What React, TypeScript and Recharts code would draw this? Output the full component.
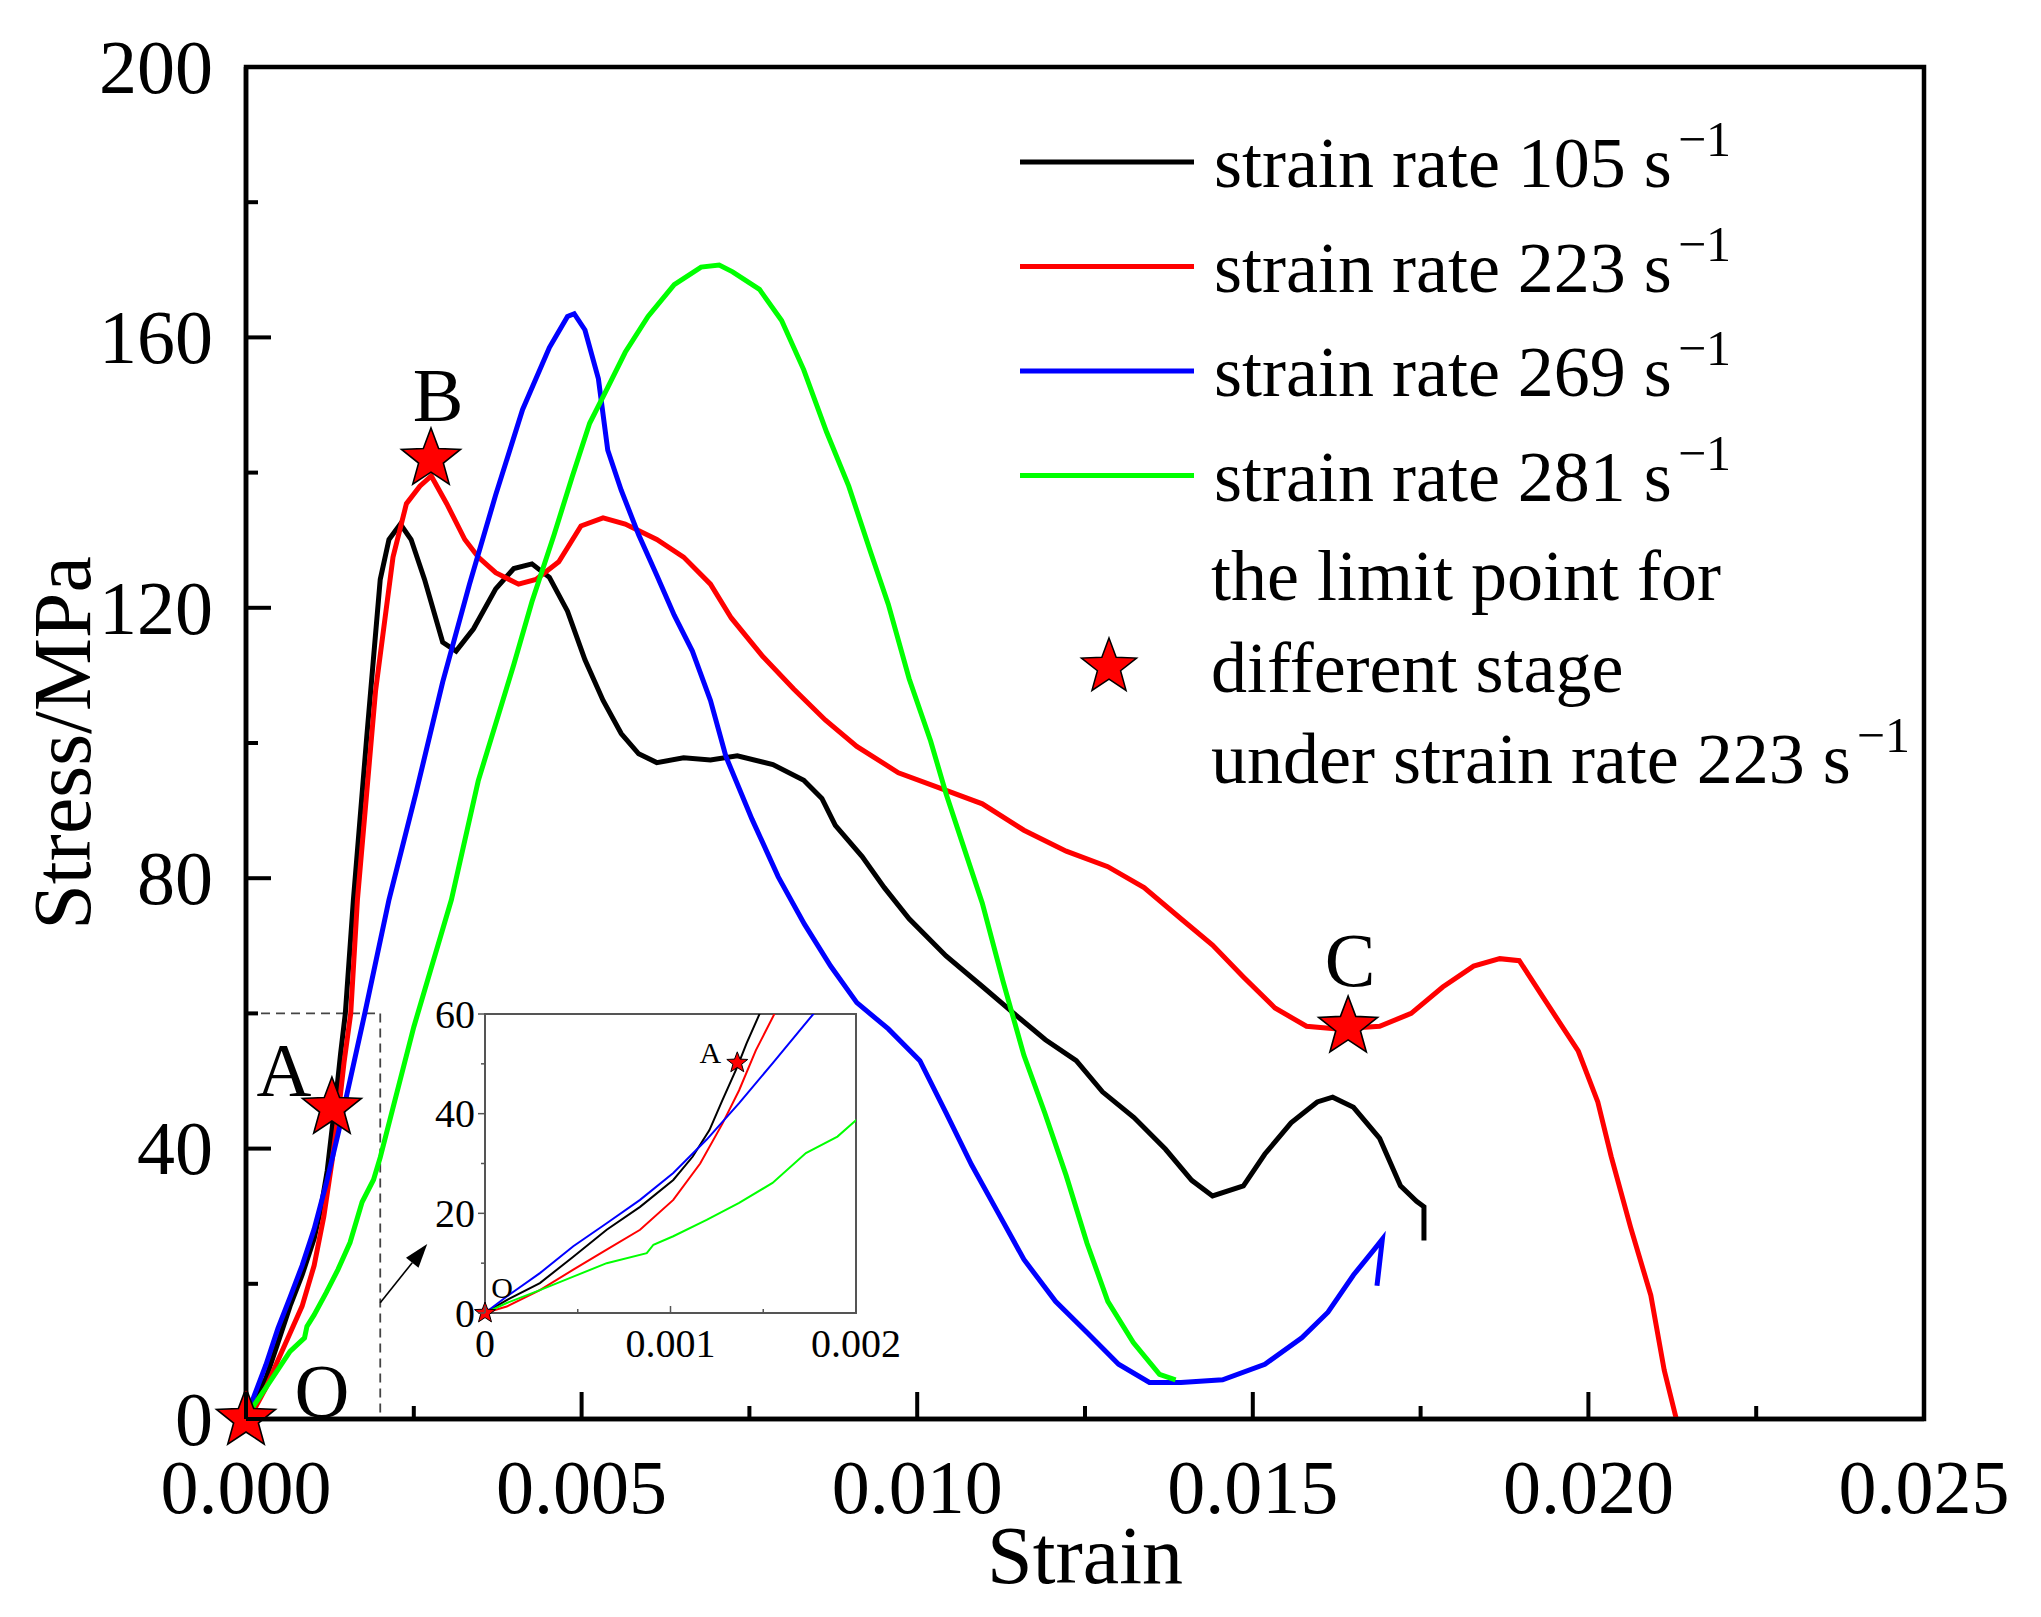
import React from 'react';
import {
  ComposedChart,
  Line,
  Scatter,
  XAxis,
  YAxis,
  ReferenceArea,
  ReferenceLine,
  ReferenceDot,
  Legend,
} from 'recharts';

const FONT = '"Liberation Serif", "Times New Roman", serif';

// ---------- data ----------
const strainRates = [105, 223, 269, 281];
const seriesColors = ['#000000', '#ff0000', '#0000ff', '#00ff00'];

const rate105: [number, number][] = [
  [0, 0], [0.000117, 2.6], [0.000296, 6], [0.000476, 11.3], [0.000656, 16.7], [0.000836, 21.3],
  [0.001015, 26.7], [0.00112, 31.4], [0.00121, 36.7], [0.00128, 42.7], [0.00136, 49.4], [0.00141, 54.1],
  [0.00148, 60], [0.0016, 76.8], [0.0018, 101], [0.002, 124.2], [0.00213, 130.1], [0.0023, 132.4],
  [0.00246, 130.1], [0.00266, 124.2], [0.00293, 114.9], [0.00313, 113.6], [0.00339, 116.9], [0.00372, 122.8],
  [0.00399, 125.8], [0.00426, 126.5], [0.00452, 124.5], [0.00479, 119.5], [0.00505, 112.3], [0.00532, 106.3],
  [0.00559, 101.4], [0.00585, 98.4], [0.00612, 97.1], [0.00652, 97.8], [0.00692, 97.5], [0.00732, 98.1],
  [0.00785, 96.8], [0.00831, 94.5], [0.00858, 91.8], [0.00878, 87.8], [0.00918, 83.2], [0.00951, 78.6],
  [0.00988, 74], [0.01043, 68.5], [0.01098, 63.9], [0.01144, 60], [0.01191, 56.1], [0.01237, 53],
  [0.01276, 48.4], [0.01323, 44.6], [0.0137, 39.9], [0.01409, 35.3], [0.0144, 33], [0.01486, 34.5],
  [0.01518, 39.2], [0.01557, 43.8], [0.01596, 46.9], [0.01619, 47.6], [0.0165, 46.1], [0.01689, 41.5],
  [0.0172, 34.5], [0.01744, 32.2], [0.01755, 31.4], [0.01755, 26.4],
];

const rate223: [number, number][] = [
  [0, 0], [0.000117, 1.3], [0.000296, 4.6], [0.000476, 8.7], [0.000656, 12.7], [0.000836, 16.7],
  [0.001015, 22.7], [0.00116, 30], [0.00128, 38], [0.00137, 44.7], [0.00146, 52.7], [0.00156, 60],
  [0.00166, 76.8], [0.00193, 107.7], [0.00219, 127.5], [0.00239, 135.4], [0.00259, 138], [0.00276, 139.5],
  [0.00299, 135.4], [0.00326, 130.1], [0.00346, 127.5], [0.00372, 125.2], [0.00406, 123.5], [0.00432, 124.2],
  [0.00466, 126.8], [0.00499, 132.1], [0.00532, 133.3], [0.00565, 132.4], [0.00612, 130.1], [0.00652, 127.5],
  [0.00692, 123.5], [0.00723, 118.5], [0.0077, 112.8], [0.00816, 108], [0.00863, 103.4], [0.0091, 99.5],
  [0.00972, 95.6], [0.01035, 93.3], [0.01097, 91], [0.01159, 87.1], [0.01222, 84], [0.01284, 81.7],
  [0.01338, 78.6], [0.01393, 74], [0.0144, 70.1], [0.01486, 65.4], [0.01533, 60.8], [0.0158, 58.1],
  [0.01626, 57.7], [0.01689, 58.1], [0.01736, 60], [0.01783, 63.9], [0.01829, 67], [0.01868, 68.1],
  [0.01897, 67.8], [0.01935, 62], [0.01985, 54.4], [0.02014, 46.9], [0.02034, 38.8], [0.02063, 28.3],
  [0.02093, 18.3], [0.02113, 7.2], [0.02131, 0],
];

const rate269: [number, number][] = [
  [0, 0], [0.000117, 3.3], [0.000296, 8], [0.000476, 13.4], [0.000656, 18], [0.000836, 22.7],
  [0.001015, 28.1], [0.001195, 34.8], [0.00137, 42.1], [0.00155, 50.1], [0.00177, 60], [0.00213, 76.8],
  [0.00253, 92.5], [0.00293, 109], [0.00333, 123.5], [0.00372, 136.7], [0.00412, 149.3], [0.00452, 158.5],
  [0.00479, 163.1], [0.00489, 163.5], [0.00505, 161.1], [0.00525, 153.9], [0.00539, 143.3], [0.00559, 137.4],
  [0.00585, 130.8], [0.00612, 124.8], [0.00638, 118.9], [0.00665, 113.6], [0.00692, 106.3], [0.00715, 98],
  [0.00754, 88.7], [0.00793, 80.2], [0.00832, 73.2], [0.00871, 67], [0.0091, 61.6], [0.00957, 57.7],
  [0.01004, 53], [0.01043, 45.3], [0.01081, 37.6], [0.0112, 30.6], [0.01159, 23.6], [0.01206, 17.4],
  [0.01253, 12.8], [0.013, 8.1], [0.01346, 5.4], [0.01393, 5.4], [0.01455, 5.8], [0.01518, 8.1],
  [0.01573, 12], [0.01612, 15.8], [0.0165, 21.3], [0.01681, 25.1], [0.01693, 26.6], [0.01685, 19.7],
];

const rate281: [number, number][] = [
  [0, 0], [0.000117, 2], [0.000296, 4.6], [0.000476, 7.3], [0.000656, 10], [0.000872, 12],
  [0.000908, 13.7], [0.001015, 15.4], [0.001195, 18.7], [0.00137, 22.1], [0.00155, 26.1], [0.00173, 32.1],
  [0.0019, 35.4], [0.002, 38.7], [0.0025, 58], [0.00306, 76.8], [0.00346, 94.4], [0.00399, 111.6],
  [0.00426, 120.9], [0.00459, 130.8], [0.00486, 139.4], [0.00512, 147.3], [0.00539, 152.6], [0.00565, 157.8],
  [0.00599, 163.1], [0.00638, 167.8], [0.00678, 170.4], [0.00705, 170.7], [0.00725, 169.7], [0.00765, 167.1],
  [0.00798, 162.5], [0.00831, 155.2], [0.00865, 146], [0.00898, 138], [0.00931, 128.1], [0.00957, 120.5],
  [0.00988, 109.5], [0.0102, 100.3], [0.01043, 92.5], [0.01066, 85.6], [0.01097, 76.3], [0.01128, 64.7],
  [0.01159, 53.8], [0.0119, 45.3], [0.01222, 36], [0.01253, 26], [0.01284, 17.4], [0.01322, 11.3],
  [0.01361, 6.6], [0.01385, 5.8],
];

const allSeries = [rate105, rate223, rate269, rate281];

const limitPointNames = ['O', 'A', 'B', 'C'];
const limitPointStrain = [0, 0.00128, 0.002756, 0.01642];
const limitPointStress = [0, 46, 142, 58];

const insetPointNames = ['O', 'A'];
const insetPointStrain = [0, 0.00136];
const insetPointStress = [0, 50.2];

const xTicks = [0, 0.0025, 0.005, 0.0075, 0.01, 0.0125, 0.015, 0.0175, 0.02, 0.0225, 0.025];
const xMajorTicks = [0, 0.005, 0.01, 0.015, 0.02, 0.025];
const xTickLabels = ['0.000', '0.005', '0.010', '0.015', '0.020', '0.025'];
const yTicks = [0, 20, 40, 60, 80, 100, 120, 140, 160, 180, 200];
const yMajorTicks = [0, 40, 80, 120, 160, 200];
const yTickLabels = ['0', '40', '80', '120', '160', '200'];

const insetXTicks = [0, 0.0005, 0.001, 0.0015, 0.002];
const insetXMajorTicks = [0, 0.001, 0.002];
const insetXTickLabels = ['0', '0.001', '0.002'];
const insetYTicks = [0, 10, 20, 30, 40, 50, 60];
const insetYMajorTicks = [0, 20, 40, 60];
const insetYTickLabels = ['0', '20', '40', '60'];

const zoomCorner = { x: 0.002, y: 60 };
const arrowStart = { x: 0.002, y: 17.2 };
const arrowEnd = { x: 0.0027, y: 25.9 };

const legendTitle = ['the limit point for', 'different stage', 'under strain rate 223 s'];

// ---------- helpers ----------
const toXY = (arr: [number, number][]) => arr.map(([x, y]) => ({ x, y }));
const pointsOf = (names: string[], xs: number[], ys: number[]) =>
  names.map((n, i) => ({ x: xs[i], y: ys[i], name: n }));

const findIndex = (arr: number[], v: number) =>
  arr.findIndex((a) => Math.abs(a - v) < 1e-9);

const starPath = (cx: number, cy: number, R: number) => {
  const r = R * 0.42;
  const pts: string[] = [];
  for (let i = 0; i < 10; i++) {
    const ang = ((-90 + i * 36) * Math.PI) / 180;
    const rad = i % 2 === 0 ? R : r;
    pts.push(`${(cx + rad * Math.cos(ang)).toFixed(2)},${(cy + rad * Math.sin(ang)).toFixed(2)}`);
  }
  return pts.join(' ');
};

const mainLabelOffsets: Record<string, [number, number]> = {
  O: [76, -29],
  A: [-48, -39],
  B: [7, -65],
  C: [2, -68],
};
const insetLabelOffsets: Record<string, [number, number]> = {
  O: [17, -26],
  A: [-27, -10],
};

const renderStar = (
  cx: number,
  cy: number,
  name: string,
  R: number,
  offsets: Record<string, [number, number]>,
  fontSize: number,
) => {
  const off = offsets[name] || [0, 0];
  return (
    <g>
      <polygon points={starPath(cx, cy, R)} fill="#ff0000" stroke="#000" strokeWidth={R > 20 ? 1.6 : 1} />
      <text
        x={cx + off[0]}
        y={cy + off[1]}
        dy="0.35em"
        textAnchor="middle"
        fontFamily={FONT}
        fontSize={fontSize}
        fill="#000"
      >
        {name}
      </text>
    </g>
  );
};

const makeStarShape = (R: number, offsets: Record<string, [number, number]>, fontSize: number) =>
  (props: any) => {
    const { cx, cy, payload } = props;
    if (cx == null || cy == null) return <g />;
    return renderStar(cx, cy, payload?.name, R, offsets, fontSize);
  };

// ---------- ticks ----------
const MainXTick = (props: any) => {
  const { x, y, payload } = props;
  const idx = findIndex(xMajorTicks, payload.value);
  const major = idx >= 0;
  return (
    <g>
      <line x1={x} x2={x} y1={y} y2={y - (major ? 27 : 13)} stroke="#000" strokeWidth={4} />
      {major && (
        <text x={x} y={y + 94} textAnchor="middle" fontFamily={FONT} fontSize={76} fill="#000">
          {xTickLabels[idx]}
        </text>
      )}
    </g>
  );
};

const MainYTick = (props: any) => {
  const { x, y, payload } = props;
  const idx = findIndex(yMajorTicks, payload.value);
  const major = idx >= 0;
  return (
    <g>
      <line x1={x} x2={x + (major ? 25 : 12)} y1={y} y2={y} stroke="#000" strokeWidth={4} />
      {major && (
        <text x={x - 33} y={y} dy="0.34em" textAnchor="end" fontFamily={FONT} fontSize={76} fill="#000">
          {yTickLabels[idx]}
        </text>
      )}
    </g>
  );
};

const InsetXTick = (props: any) => {
  const { x, y, payload } = props;
  const idx = findIndex(insetXMajorTicks, payload.value);
  const major = idx >= 0;
  return (
    <g>
      <line x1={x} x2={x} y1={y} y2={y - (major ? 7 : 4)} stroke="#555" strokeWidth={1.5} />
      {major && (
        <text x={x} y={y + 44} textAnchor="middle" fontFamily={FONT} fontSize={40} fill="#000">
          {insetXTickLabels[idx]}
        </text>
      )}
    </g>
  );
};

const InsetYTick = (props: any) => {
  const { x, y, payload } = props;
  const idx = findIndex(insetYMajorTicks, payload.value);
  const major = idx >= 0;
  return (
    <g>
      <line x1={x} x2={x - (major ? 7 : 4)} y1={y} y2={y} stroke="#555" strokeWidth={1.5} />
      {major && (
        <text x={x - 10} y={y} dy="0.34em" textAnchor="end" fontFamily={FONT} fontSize={40} fill="#000">
          {insetYTickLabels[idx]}
        </text>
      )}
    </g>
  );
};

// ---------- annotations ----------
const ArrowShape = (props: any) => {
  const { x1, y1, x2, y2 } = props;
  if ([x1, y1, x2, y2].some((v) => v == null || isNaN(v))) return <g />;
  const dx = x2 - x1;
  const dy = y2 - y1;
  const len = Math.sqrt(dx * dx + dy * dy) || 1;
  const ux = dx / len;
  const uy = dy / len;
  const headL = 24;
  const headW = 8;
  const bx = x2 - ux * headL;
  const by = y2 - uy * headL;
  return (
    <g>
      <line x1={x1} y1={y1} x2={bx} y2={by} stroke="#000" strokeWidth={1.6} />
      <polygon
        points={`${x2},${y2} ${bx - uy * headW},${by + ux * headW} ${bx + uy * headW},${by - ux * headW}`}
        fill="#000"
      />
    </g>
  );
};

const Sup = () => (
  <tspan dx={6} dy={-31} fontSize={50}>
    {'\u2212'}1
  </tspan>
);

const LegendGraphic = () => (
  <svg width={900} height={720} style={{ overflow: 'visible', display: 'block' }}>
    {strainRates.map((r, i) => {
      const ly = 64 + i * 104.5;
      return (
        <g key={r}>
          <line x1={22} x2={196} y1={ly} y2={ly} stroke={seriesColors[i]} strokeWidth={5} />
          <text x={216} y={ly + 25} fontFamily={FONT} fontSize={72} fill="#000">
            {`strain rate ${r} s`}
            <Sup />
          </text>
        </g>
      );
    })}
    <polygon points={starPath(111, 569, 29)} fill="#ff0000" stroke="#000" strokeWidth={1.5} />
    {legendTitle.map((t, i) => (
      <text key={t} x={213} y={502 + i * 91.5} fontFamily={FONT} fontSize={72} fill="#000">
        {t}
        {i === legendTitle.length - 1 ? <Sup /> : null}
      </text>
    ))}
  </svg>
);

// ---------- charts ----------
const W = 2025;
const H = 1601;

const insetPoints = pointsOf(insetPointNames, insetPointStrain, insetPointStress);

const InsetChart = () => (
  <ComposedChart width={481} height={399} margin={{ top: 40, right: 50, left: 0, bottom: 0 }}>
    <XAxis
      type="number"
      dataKey="x"
      domain={[0, 0.002]}
      ticks={insetXTicks}
      interval={0}
      allowDataOverflow
      tickSize={0}
      tickMargin={0}
      tickLine={false}
      tick={InsetXTick}
      axisLine={{ stroke: '#555', strokeWidth: 2 }}
      height={60}
    />
    <YAxis
      type="number"
      dataKey="y"
      domain={[0, 60]}
      ticks={insetYTicks}
      interval={0}
      allowDataOverflow
      tickSize={0}
      tickMargin={0}
      tickLine={false}
      tick={InsetYTick}
      axisLine={{ stroke: '#555', strokeWidth: 2 }}
      width={60}
    />
    <ReferenceArea x1={0} x2={0.002} y1={0} y2={60} fill="none" stroke="#555" strokeWidth={2} />
    {allSeries.map((s, i) => (
      <Line
        key={strainRates[i]}
        data={toXY(s)}
        dataKey="y"
        type="linear"
        stroke={seriesColors[i]}
        strokeWidth={2}
        dot={false}
        isAnimationActive={false}
        legendType="none"
      />
    ))}
    {insetPoints.map((p) => (
      <ReferenceDot
        key={p.name}
        x={p.x}
        y={p.y}
        r={11}
        ifOverflow="visible"
        shape={(props: any) =>
          props.cx == null ? <g /> : renderStar(props.cx, props.cy, p.name, 11, insetLabelOffsets, 30)
        }
      />
    ))}
  </ComposedChart>
);

export default function App() {
  return (
    <div style={{ position: 'relative', width: W, height: H, background: '#fff' }}>
      <ComposedChart width={W} height={H} margin={{ top: 59, right: 109, left: 0, bottom: 0 }}>
        <XAxis
          type="number"
          dataKey="x"
          domain={[0, 0.025]}
          ticks={xTicks}
          interval={0}
          tickSize={0}
          tickMargin={0}
          tickLine={false}
          tick={MainXTick}
          axisLine={{ stroke: '#000', strokeWidth: 4.5 }}
          height={190}
          label={(p: any) => {
            const vb = p?.viewBox || { x: 238, y: 1411, width: 1678, height: 190 };
            return (
              <text
                x={vb.x + vb.width / 2}
                y={vb.y + 164}
                textAnchor="middle"
                fontFamily={FONT}
                fontSize={82}
                fill="#000"
              >
                Strain
              </text>
            );
          }}
        />
        <YAxis
          type="number"
          dataKey="y"
          domain={[0, 200]}
          ticks={yTicks}
          interval={0}
          tickSize={0}
          tickMargin={0}
          tickLine={false}
          tick={MainYTick}
          axisLine={{ stroke: '#000', strokeWidth: 4.5 }}
          width={238}
          label={(p: any) => {
            const vb = p?.viewBox || { x: 0, y: 59, width: 238, height: 1352 };
            const cx = vb.x + 82;
            const cy = vb.y + vb.height / 2;
            return (
              <text
                x={cx}
                y={cy}
                transform={`rotate(-90 ${cx} ${cy})`}
                textAnchor="middle"
                fontFamily={FONT}
                fontSize={82}
                fill="#000"
              >
                Stress/MPa
              </text>
            );
          }}
        />
        <ReferenceArea x1={0} x2={0.025} y1={0} y2={200} fill="none" stroke="#000" strokeWidth={4.5} />
        <ReferenceLine
          segment={[{ x: 0, y: zoomCorner.y }, zoomCorner]}
          stroke="#444"
          strokeWidth={1.8}
          strokeDasharray="9 6"
        />
        <ReferenceLine
          segment={[zoomCorner, { x: zoomCorner.x, y: 0 }]}
          stroke="#444"
          strokeWidth={1.8}
          strokeDasharray="9 6"
        />
        <ReferenceLine segment={[arrowStart, arrowEnd]} shape={ArrowShape} />
        {allSeries.map((s, i) => (
          <Line
            key={strainRates[i]}
            data={toXY(s)}
            dataKey="y"
            name={`strain rate ${strainRates[i]} s-1`}
            type="linear"
            stroke={seriesColors[i]}
            strokeWidth={5}
            dot={false}
            isAnimationActive={false}
          />
        ))}
        <Scatter
          data={pointsOf(limitPointNames, limitPointStrain, limitPointStress)}
          dataKey="y"
          isAnimationActive={false}
          shape={makeStarShape(31, mainLabelOffsets, 76)}
          legendType="none"
        />
        <Legend
          layout="horizontal"
          verticalAlign="middle"
          align="center"
          wrapperStyle={{ position: 'absolute', left: 990, top: 90, width: 900, height: 720 }}
          content={() => <LegendGraphic />}
        />
      </ComposedChart>
      <div style={{ position: 'absolute', left: 417, top: 966 }}>
        <InsetChart />
      </div>
    </div>
  );
}
